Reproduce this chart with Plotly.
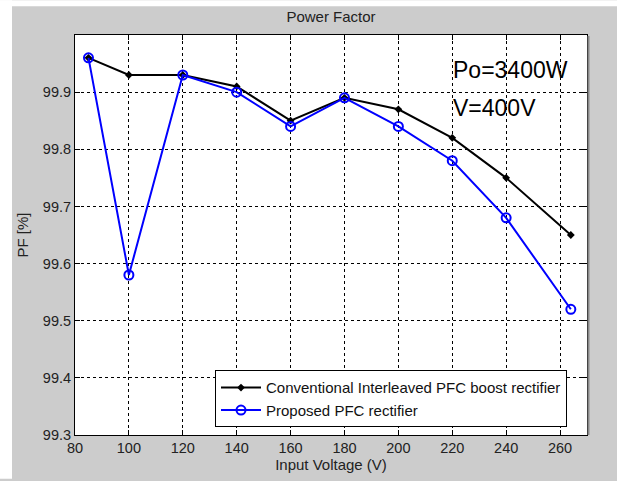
import plotly.graph_objects as go

voltage = [85, 100, 120, 140, 160, 180, 200, 220, 240, 264]
pf_conventional = [99.96, 99.93, 99.93, 99.91, 99.85, 99.89, 99.87, 99.82, 99.75, 99.65]
pf_proposed = [99.96, 99.58, 99.93, 99.90, 99.84, 99.89, 99.84, 99.78, 99.68, 99.52]
x_ticks = [80, 100, 120, 140, 160, 180, 200, 220, 240, 260]
y_ticks = [99.3, 99.4, 99.5, 99.6, 99.7, 99.8, 99.9]

W, H = 617, 481
ML, MR, MT, MB = 75, 30, 35, 44
pw, ph = W - ML - MR, H - MT - MB

def px(xpix):
    return (xpix - ML) / pw

def py(ypix):
    return (H - MB - ypix) / ph

font = "Liberation Sans, Arial, sans-serif"

fig = go.Figure()
fig.add_trace(go.Scatter(
    x=voltage, y=pf_conventional, mode="lines+markers",
    name="Conventional Interleaved PFC boost rectifier",
    line=dict(color="black", width=2),
    marker=dict(symbol="diamond", size=6, color="black"),
))
fig.add_trace(go.Scatter(
    x=voltage, y=pf_proposed, mode="lines+markers",
    name="Proposed PFC rectifier",
    line=dict(color="#0000ff", width=2),
    marker=dict(symbol="circle-open", size=9, color="#0000ff", line=dict(width=2)),
))

axis_common = dict(
    showline=True, linecolor="black", linewidth=1, mirror="ticks",
    ticks="inside", ticklen=5, tickcolor="black",
    showgrid=True, gridcolor="black", gridwidth=1, griddash="3px,3px",
    zeroline=False, tickfont=dict(family=font, size=14.5, color="#222"),
)

fig.update_layout(
    width=W, height=H,
    margin=dict(l=ML, r=MR, t=MT, b=MB),
    paper_bgcolor="#cccccc", plot_bgcolor="white",
    showlegend=True,
    title=dict(text="Power Factor", x=px(331), xref="paper", xanchor="center",
               y=1 - 17 / H, yanchor="middle",
               font=dict(family=font, size=15, color="#222")),
    xaxis=dict(range=[80, 270], tickvals=x_ticks, ticktext=[str(v) for v in x_ticks],
               title=dict(text="Input Voltage (V)", standoff=2,
                          font=dict(family=font, size=15, color="#222")),
               **axis_common),
    yaxis=dict(range=[99.3, 100.0], tickvals=y_ticks, ticktext=[f"{v:.1f}" for v in y_ticks],
               title=dict(text="PF [%]", standoff=10,
                          font=dict(family=font, size=15, color="#222")),
               **axis_common),
    legend=dict(x=px(567), y=py(372), xanchor="right", yanchor="top",
                bgcolor="white", bordercolor="black", borderwidth=1,
                font=dict(family=font, size=15, color="#111"),
                tracegroupgap=0, itemwidth=40),
    shapes=[
        dict(type="rect", xref="paper", yref="paper", x0=px(0), x1=px(12), y0=py(H), y1=py(0),
             fillcolor="white", line=dict(width=0), layer="below"),
        dict(type="rect", xref="paper", yref="paper", x0=px(0), x1=px(W), y0=py(6), y1=py(0),
             fillcolor="white", line=dict(width=0), layer="below"),
        dict(type="line", xref="paper", yref="paper", x0=px(588.5), x1=px(588.5), y0=py(437), y1=py(36),
             line=dict(color="#888888", width=2)),
    ],
    annotations=[
        dict(text="Po=3400W", xref="paper", yref="paper", x=px(451), y=py(70),
             xanchor="left", yanchor="middle", showarrow=False,
             font=dict(family=font, size=23, color="black")),
        dict(text="V=400V", xref="paper", yref="paper", x=px(451), y=py(108),
             xanchor="left", yanchor="middle", showarrow=False,
             font=dict(family=font, size=23, color="black")),
    ],
)

fig.write_html("out.html")
